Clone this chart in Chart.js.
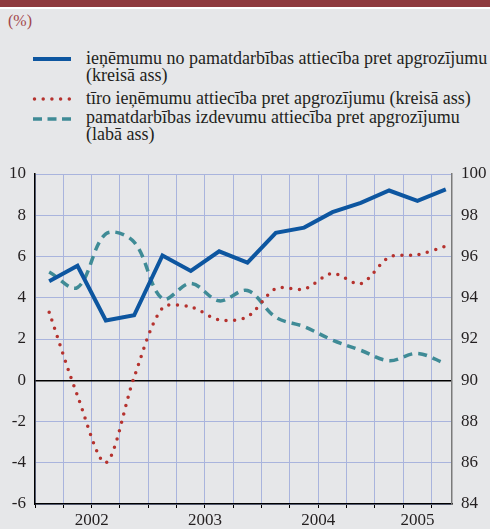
<!DOCTYPE html>
<html><head><meta charset="utf-8">
<script src="https://cdn.jsdelivr.net/npm/chart.js@4.4.0/dist/chart.umd.min.js"></script>
<style>
html,body{margin:0;padding:0;background:#e6e7e9;width:490px;height:529px;overflow:hidden;font-family:"Liberation Serif","DejaVu Serif","Times New Roman",Times,serif;}
#band{position:absolute;left:0;top:0;width:490px;height:7px;background:#8e3a3e;}
#wline{position:absolute;left:0;top:7px;width:490px;height:2px;background:#ffffff;}
#unit{position:absolute;left:8px;top:13px;font-size:16px;line-height:16px;color:#a2464b;}
.lg{position:absolute;left:86px;font-size:18px;line-height:17px;color:#231f20;white-space:nowrap;}
#sw{position:absolute;left:0;top:0;}
canvas{position:absolute;left:0;top:0;}
</style></head>
<body>
<div id="band"></div><div id="wline"></div>
<div id="unit">(%)</div>
<svg id="sw" width="90" height="150">
  <line x1="33" y1="59" x2="71" y2="59" stroke="#0d56a0" stroke-width="4"/>
  <line x1="34.5" y1="99" x2="70" y2="99" stroke="#b5322e" stroke-width="3.5" stroke-linecap="round" stroke-dasharray="0 8.7"/>
  <line x1="33" y1="119" x2="71" y2="119" stroke="#3f8b96" stroke-width="3.5" stroke-dasharray="9 5.5"/>
</svg>
<div class="lg" style="top:50px">ieņēmumu no pamatdarbības attiecība pret apgrozījumu<br>(kreisā ass)</div>
<div class="lg" style="top:90px">tīro ieņēmumu attiecība pret apgrozījumu (kreisā ass)</div>
<div class="lg" style="top:109px">pamatdarbības izdevumu attiecība pret apgrozījumu<br>(labā ass)</div>
<canvas id="c" width="490" height="529"></canvas>
<script>
const quarters = ['2002 Q1','2002 Q2','2002 Q3','2002 Q4','2003 Q1','2003 Q2','2003 Q3','2003 Q4','2004 Q1','2004 Q2','2004 Q3','2004 Q4','2005 Q1','2005 Q2','2005 Q3'];
const yearLabels = ['2002','2003','2004','2005'];
const operatingIncome = [4.8, 5.55, 2.9, 3.15, 6.05, 5.3, 6.25, 5.7, 7.15, 7.4, 8.15, 8.6, 9.2, 8.7, 9.25];
const netIncome = [3.3, -0.75, -4.0, 0.15, 3.5, 3.55, 2.93, 3.08, 4.45, 4.42, 5.18, 4.68, 5.97, 6.08, 6.5];
const operatingCosts = [95.25, 94.5, 97.1, 96.7, 93.95, 94.7, 93.85, 94.35, 93.05, 92.6, 91.95, 91.45, 90.95, 91.3, 90.8];
const leftTicks = [-6, -4, -2, 0, 2, 4, 6, 8, 10];
const rightTicks = [84, 86, 88, 90, 92, 94, 96, 98, 100];
const seriesNames = ['ieņēmumu no pamatdarbības attiecība pret apgrozījumu (kreisā ass)','tīro ieņēmumu attiecība pret apgrozījumu (kreisā ass)','pamatdarbības izdevumu attiecība pret apgrozījumu (labā ass)'];

const FONT = '"Liberation Serif", "DejaVu Serif", "Times New Roman", Times, serif';
const GRID = '#a9b4dd';
const TXT = '#231f20';

const yearPos = {};
yearLabels.forEach(y => {
  const idx = quarters.map((q,i)=>q.startsWith(y)?i:-1).filter(i=>i>=0);
  yearPos[((idx[0] + idx[idx.length-1] + 1)/2).toFixed(2)] = y;
});
const gridVals = quarters.map((q,i)=>i);
const xTickVals = Array.from(new Set(gridVals.concat(Object.keys(yearPos).map(Number)))).sort((a,b)=>a-b);
const pts = arr => arr.map((v,i)=>({x:i+0.5, y:v}));
const isGrid = v => Number.isInteger(v);

new Chart(document.getElementById('c'), {
  type: 'line',
  data: {
    datasets: [
      {label: seriesNames[0], data: pts(operatingIncome), yAxisID:'y', borderColor:'#0d56a0', borderWidth:4, tension:0, pointRadius:0, borderJoinStyle:'miter'},
      {label: seriesNames[1], data: pts(netIncome), yAxisID:'y', borderColor:'#b5322e', borderWidth:3.5, borderDash:[0,8.6], borderCapStyle:'round', tension:0.3, pointRadius:0},
      {label: seriesNames[2], data: pts(operatingCosts), yAxisID:'y2', borderColor:'#3f8b96', borderWidth:3.5, borderDash:[9,6], borderCapStyle:'butt', tension:0.35, pointRadius:0}
    ]
  },
  options: {
    responsive:false, animation:false, devicePixelRatio:1,
    layout:{padding:{top:174,left:0,right:0,bottom:0}},
    plugins:{legend:{display:false}, tooltip:{enabled:false}},
    scales:{
      x:{type:'linear', position:'bottom', min:0, max:14.72,
        afterBuildTicks: s => { s.ticks = xTickVals.map(v=>({value:v})); },
        afterFit: s => { s.height = 25; },
        grid:{color: c => (c.tick && isGrid(c.tick.value)) ? GRID : 'rgba(0,0,0,0)',
              tickColor: c => (c.tick && isGrid(c.tick.value)) ? '#000' : 'rgba(0,0,0,0)',
              tickLength:4, lineWidth:1},
        border:{color:'#000', width:1.5},
        ticks:{autoSkip:false, maxRotation:0, minRotation:0, padding:2, color:TXT, font:{family:FONT, size:17},
               callback: v => yearPos[Number(v).toFixed(2)] || ''}
      },
      y:{position:'left', min:-6, max:10,
        afterBuildTicks: s => { s.ticks = leftTicks.map(v=>({value:v})); },
        afterFit: s => { s.width = 35; },
        grid:{color: c => c.tick && c.tick.value===0 ? '#000' : GRID, lineWidth: c => c.tick && c.tick.value===0 ? 1.5 : 1, drawTicks:false},
        border:{color:'#000', width:1.5},
        ticks:{padding:9, color:TXT, font:{family:FONT, size:17}}
      },
      y2:{position:'right', min:84, max:100,
        afterBuildTicks: s => { s.ticks = rightTicks.map(v=>({value:v})); },
        afterFit: s => { s.width = 38; },
        grid:{display:false, drawTicks:false},
        border:{color:'#7a7a7a', width:1.5},
        ticks:{padding:9, color:TXT, font:{family:FONT, size:17}}
      }
    }
  }
});
</script>
</body></html>
